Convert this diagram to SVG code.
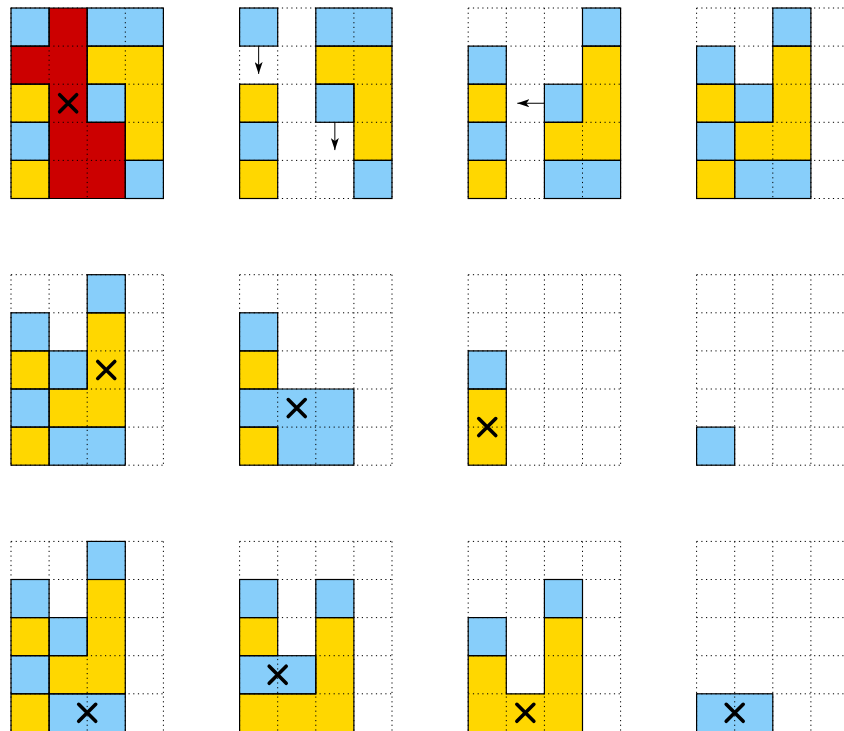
<svg xmlns="http://www.w3.org/2000/svg" xmlns:xlink="http://www.w3.org/1999/xlink" width="844" height="731" viewBox="0 0 844 731">
<style>
.b{fill:#87CEFA}
.y{fill:#FFD700}
.r{fill:#CC0000}
.o{stroke:#000;stroke-width:1.2;stroke-linejoin:miter}
.g{fill:none;stroke:#000;stroke-width:1;stroke-dasharray:1.2 3.5}
.x{fill:none;stroke:#000;stroke-width:3.6;stroke-linecap:round}
.a{fill:none;stroke:#000;stroke-width:1}
</style>
<defs>
<path id="grid" d="M0,0H152.4M0,38.1H152.4M0,76.2H152.4M0,114.3H152.4M0,152.4H152.4M0,190.5H152.4M0,0V190.5M38.1,0V190.5M76.2,0V190.5M114.3,0V190.5M152.4,0V190.5"/>
<path id="cross" d="M-8.5,-8.5L8.5,8.5M8.5,-8.5L-8.5,8.5"/>
<marker id="head" viewBox="0 0 12 8" markerWidth="12" markerHeight="8" refX="12" refY="4" orient="auto" markerUnits="userSpaceOnUse">
<path d="M0,0L12,4L0,8L3,4Z" fill="#000"/>
</marker>
</defs>

<g id="grid-1" transform="translate(11,8)">
<g class="fills">
<rect class="b" x="0" y="0" width="38.1" height="38.1"/>
<path class="r" d="M38.1,0H76.2V114.3H114.3V190.5H38.1V76.2H0V38.1H38.1Z"/>
<rect class="b" x="76.2" y="0" width="76.2" height="38.1"/>
<path class="y" d="M76.2,38.1H152.4V152.4H114.3V76.2H76.2Z"/>
<rect class="y" x="0" y="76.2" width="38.1" height="38.1"/>
<rect class="b" x="76.2" y="76.2" width="38.1" height="38.1"/>
<rect class="b" x="0" y="114.3" width="38.1" height="38.1"/>
<rect class="y" x="0" y="152.4" width="38.1" height="38.1"/>
<rect class="b" x="114.3" y="152.4" width="38.1" height="38.1"/>
</g>
<use href="#grid" class="g"/>
<g class="o" fill="none">
<rect x="0" y="0" width="38.1" height="38.1"/>
<path d="M38.1,0H76.2V114.3H114.3V190.5H38.1V76.2H0V38.1H38.1Z"/>
<rect x="76.2" y="0" width="76.2" height="38.1"/>
<path d="M76.2,38.1H152.4V152.4H114.3V76.2H76.2Z"/>
<rect x="0" y="76.2" width="38.1" height="38.1"/>
<rect x="76.2" y="76.2" width="38.1" height="38.1"/>
<rect x="0" y="114.3" width="38.1" height="38.1"/>
<rect x="0" y="152.4" width="38.1" height="38.1"/>
<rect x="114.3" y="152.4" width="38.1" height="38.1"/>
</g>
<use href="#cross" class="x" x="57.15" y="95.25"/>
</g>

<g id="grid-2" transform="translate(239.6,8)">
<g class="fills">
<rect class="b" x="0" y="0" width="38.1" height="38.1"/>
<rect class="y" x="0" y="76.2" width="38.1" height="38.1"/>
<rect class="b" x="0" y="114.3" width="38.1" height="38.1"/>
<rect class="y" x="0" y="152.4" width="38.1" height="38.1"/>
<rect class="b" x="76.2" y="0" width="76.2" height="38.1"/>
<path class="y" d="M76.2,38.1H152.4V152.4H114.3V76.2H76.2Z"/>
<rect class="b" x="76.2" y="76.2" width="38.1" height="38.1"/>
<rect class="b" x="114.3" y="152.4" width="38.1" height="38.1"/>
</g>
<use href="#grid" class="g"/>
<g class="o" fill="none">
<rect x="0" y="0" width="38.1" height="38.1"/>
<rect x="0" y="76.2" width="38.1" height="38.1"/>
<rect x="0" y="114.3" width="38.1" height="38.1"/>
<rect x="0" y="152.4" width="38.1" height="38.1"/>
<rect x="76.2" y="0" width="76.2" height="38.1"/>
<path d="M76.2,38.1H152.4V152.4H114.3V76.2H76.2Z"/>
<rect x="76.2" y="76.2" width="38.1" height="38.1"/>
<rect x="114.3" y="152.4" width="38.1" height="38.1"/>
</g>
</g>

<g id="grid-3" transform="translate(468.2,8)">
<g class="fills">
<rect class="b" x="0" y="38.1" width="38.1" height="38.1"/>
<rect class="y" x="0" y="76.2" width="38.1" height="38.1"/>
<rect class="b" x="0" y="114.3" width="38.1" height="38.1"/>
<rect class="y" x="0" y="152.4" width="38.1" height="38.1"/>
<rect class="b" x="114.3" y="0" width="38.1" height="38.1"/>
<path class="y" d="M114.3,38.1H152.4V152.4H76.2V114.3H114.3Z"/>
<rect class="b" x="76.2" y="76.2" width="38.1" height="38.1"/>
<rect class="b" x="76.2" y="152.4" width="76.2" height="38.1"/>
</g>
<use href="#grid" class="g"/>
<g class="o" fill="none">
<rect x="0" y="38.1" width="38.1" height="38.1"/>
<rect x="0" y="76.2" width="38.1" height="38.1"/>
<rect x="0" y="114.3" width="38.1" height="38.1"/>
<rect x="0" y="152.4" width="38.1" height="38.1"/>
<rect x="114.3" y="0" width="38.1" height="38.1"/>
<path d="M114.3,38.1H152.4V152.4H76.2V114.3H114.3Z"/>
<rect x="76.2" y="76.2" width="38.1" height="38.1"/>
<rect x="76.2" y="152.4" width="76.2" height="38.1"/>
</g>
</g>

<g id="grid-4" transform="translate(696.6,8)">
<g class="fills">
<rect class="b" x="0" y="38.1" width="38.1" height="38.1"/>
<rect class="y" x="0" y="76.2" width="38.1" height="38.1"/>
<rect class="b" x="0" y="114.3" width="38.1" height="38.1"/>
<rect class="y" x="0" y="152.4" width="38.1" height="38.1"/>
<rect class="b" x="38.1" y="76.2" width="38.1" height="38.1"/>
<rect class="b" x="76.2" y="0" width="38.1" height="38.1"/>
<path class="y" d="M76.2,38.1H114.3V152.4H38.1V114.3H76.2Z"/>
<rect class="b" x="38.1" y="152.4" width="76.2" height="38.1"/>
</g>
<use href="#grid" class="g"/>
<g class="o" fill="none">
<rect x="0" y="38.1" width="38.1" height="38.1"/>
<rect x="0" y="76.2" width="38.1" height="38.1"/>
<rect x="0" y="114.3" width="38.1" height="38.1"/>
<rect x="0" y="152.4" width="38.1" height="38.1"/>
<rect x="38.1" y="76.2" width="38.1" height="38.1"/>
<rect x="76.2" y="0" width="38.1" height="38.1"/>
<path d="M76.2,38.1H114.3V152.4H38.1V114.3H76.2Z"/>
<rect x="38.1" y="152.4" width="76.2" height="38.1"/>
</g>
</g>

<g id="grid-5" transform="translate(11,274.7)">
<g class="fills">
<rect class="b" x="0" y="38.1" width="38.1" height="38.1"/>
<rect class="y" x="0" y="76.2" width="38.1" height="38.1"/>
<rect class="b" x="0" y="114.3" width="38.1" height="38.1"/>
<rect class="y" x="0" y="152.4" width="38.1" height="38.1"/>
<rect class="b" x="38.1" y="76.2" width="38.1" height="38.1"/>
<rect class="b" x="76.2" y="0" width="38.1" height="38.1"/>
<path class="y" d="M76.2,38.1H114.3V152.4H38.1V114.3H76.2Z"/>
<rect class="b" x="38.1" y="152.4" width="76.2" height="38.1"/>
</g>
<use href="#grid" class="g"/>
<g class="o" fill="none">
<rect x="0" y="38.1" width="38.1" height="38.1"/>
<rect x="0" y="76.2" width="38.1" height="38.1"/>
<rect x="0" y="114.3" width="38.1" height="38.1"/>
<rect x="0" y="152.4" width="38.1" height="38.1"/>
<rect x="38.1" y="76.2" width="38.1" height="38.1"/>
<rect x="76.2" y="0" width="38.1" height="38.1"/>
<path d="M76.2,38.1H114.3V152.4H38.1V114.3H76.2Z"/>
<rect x="38.1" y="152.4" width="76.2" height="38.1"/>
</g>
<use href="#cross" class="x" x="95.25" y="95.25"/>
</g>

<g id="grid-6" transform="translate(239.6,274.7)">
<g class="fills">
<rect class="b" x="0" y="38.1" width="38.1" height="38.1"/>
<rect class="y" x="0" y="76.2" width="38.1" height="38.1"/>
<rect class="y" x="0" y="152.4" width="38.1" height="38.1"/>
<path class="b" d="M0,114.3H114.3V190.5H38.1V152.4H0Z"/>
</g>
<use href="#grid" class="g"/>
<g class="o" fill="none">
<rect x="0" y="38.1" width="38.1" height="38.1"/>
<rect x="0" y="76.2" width="38.1" height="38.1"/>
<rect x="0" y="152.4" width="38.1" height="38.1"/>
<path d="M0,114.3H114.3V190.5H38.1V152.4H0Z"/>
</g>
<use href="#cross" class="x" x="57.15" y="133.35"/>
</g>

<g id="grid-7" transform="translate(468.2,274.7)">
<g class="fills">
<rect class="b" x="0" y="76.2" width="38.1" height="38.1"/>
<rect class="y" x="0" y="114.3" width="38.1" height="76.2"/>
</g>
<use href="#grid" class="g"/>
<g class="o" fill="none">
<rect x="0" y="76.2" width="38.1" height="38.1"/>
<rect x="0" y="114.3" width="38.1" height="76.2"/>
</g>
<use href="#cross" class="x" x="19.05" y="152.4"/>
</g>

<g id="grid-8" transform="translate(696.6,274.7)">
<rect class="b" x="0" y="152.4" width="38.1" height="38.1"/>
<use href="#grid" class="g"/>
<rect class="o" fill="none" x="0" y="152.4" width="38.1" height="38.1"/>
</g>

<g id="grid-9" transform="translate(11,541.4)">
<g class="fills">
<rect class="b" x="0" y="38.1" width="38.1" height="38.1"/>
<rect class="y" x="0" y="76.2" width="38.1" height="38.1"/>
<rect class="b" x="0" y="114.3" width="38.1" height="38.1"/>
<rect class="y" x="0" y="152.4" width="38.1" height="38.1"/>
<rect class="b" x="38.1" y="76.2" width="38.1" height="38.1"/>
<rect class="b" x="76.2" y="0" width="38.1" height="38.1"/>
<path class="y" d="M76.2,38.1H114.3V152.4H38.1V114.3H76.2Z"/>
<rect class="b" x="38.1" y="152.4" width="76.2" height="38.1"/>
</g>
<use href="#grid" class="g"/>
<g class="o" fill="none">
<rect x="0" y="38.1" width="38.1" height="38.1"/>
<rect x="0" y="76.2" width="38.1" height="38.1"/>
<rect x="0" y="114.3" width="38.1" height="38.1"/>
<rect x="0" y="152.4" width="38.1" height="38.1"/>
<rect x="38.1" y="76.2" width="38.1" height="38.1"/>
<rect x="76.2" y="0" width="38.1" height="38.1"/>
<path d="M76.2,38.1H114.3V152.4H38.1V114.3H76.2Z"/>
<rect x="38.1" y="152.4" width="76.2" height="38.1"/>
</g>
<use href="#cross" class="x" x="76.2" y="171.45"/>
</g>

<g id="grid-10" transform="translate(239.6,541.4)">
<g class="fills">
<rect class="b" x="0" y="38.1" width="38.1" height="38.1"/>
<rect class="b" x="76.2" y="38.1" width="38.1" height="38.1"/>
<rect class="y" x="0" y="76.2" width="38.1" height="38.1"/>
<rect class="b" x="0" y="114.3" width="76.2" height="38.1"/>
<path class="y" d="M76.2,76.2H114.3V190.5H0V152.4H76.2Z"/>
</g>
<use href="#grid" class="g"/>
<g class="o" fill="none">
<rect x="0" y="38.1" width="38.1" height="38.1"/>
<rect x="76.2" y="38.1" width="38.1" height="38.1"/>
<rect x="0" y="76.2" width="38.1" height="38.1"/>
<rect x="0" y="114.3" width="76.2" height="38.1"/>
<path d="M76.2,76.2H114.3V190.5H0V152.4H76.2Z"/>
</g>
<use href="#cross" class="x" x="38.1" y="133.35"/>
</g>

<g id="grid-11" transform="translate(468.2,541.4)">
<g class="fills">
<rect class="b" x="76.2" y="38.1" width="38.1" height="38.1"/>
<rect class="b" x="0" y="76.2" width="38.1" height="38.1"/>
<path class="y" d="M0,114.3H38.1V152.4H76.2V76.2H114.3V190.5H0Z"/>
</g>
<use href="#grid" class="g"/>
<g class="o" fill="none">
<rect x="76.2" y="38.1" width="38.1" height="38.1"/>
<rect x="0" y="76.2" width="38.1" height="38.1"/>
<path d="M0,114.3H38.1V152.4H76.2V76.2H114.3V190.5H0Z"/>
</g>
<use href="#cross" class="x" x="57.15" y="171.45"/>
</g>

<g id="grid-12" transform="translate(696.6,541.4)">
<rect class="b" x="0" y="152.4" width="76.2" height="38.1"/>
<use href="#grid" class="g"/>
<rect class="o" fill="none" x="0" y="152.4" width="76.2" height="38.1"/>
<use href="#cross" class="x" x="38.1" y="171.45"/>
</g>

<g id="connectors">
<line class="a" x1="258.65" y1="46.1" x2="258.65" y2="73.9" marker-end="url(#head)"/>
<line class="a" x1="334.85" y1="122.3" x2="334.85" y2="150.1" marker-end="url(#head)"/>
<line class="a" x1="544.4" y1="103.25" x2="517.3" y2="103.25" marker-end="url(#head)"/>
</g>
</svg>
